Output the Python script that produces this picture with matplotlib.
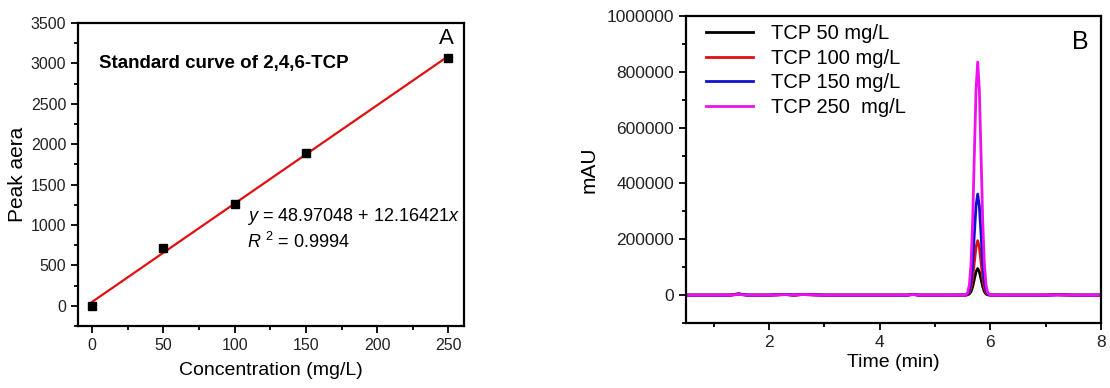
import numpy as np
import matplotlib
matplotlib.use('Agg')
import matplotlib.pyplot as plt
from matplotlib.ticker import MultipleLocator, FuncFormatter

plt.rcParams['font.family'] = ['Liberation Sans', 'DejaVu Sans']
plt.rcParams['mathtext.fontset'] = 'custom'
plt.rcParams['mathtext.rm'] = 'Liberation Sans'
plt.rcParams['mathtext.it'] = 'Liberation Sans:italic'

# Panel A: standard curve data
conc = [0, 50, 100, 150, 250]
peak_area = [0, 710, 1260, 1895, 3065]
intercept = 48.97048
slope = 12.16421

# Panel B: chromatograms (time in min, signal in mAU)
time = [0.5, 1.3, 1.45, 1.6, 2.0, 2.3, 2.45, 2.6, 3.0, 4.0, 4.5, 4.6, 4.7, 5.3,
        5.55, 5.59, 5.62, 5.65, 5.68, 5.71, 5.74, 5.77, 5.80, 5.83, 5.86, 5.89,
        5.92, 5.95, 5.99, 6.2, 7.0, 7.2, 7.5, 8.0]
tcp50 = [0, 0, 5000, 0, 0, 2500, 0, 2500, 0, 0, 0, 3000, 0, 0,
         115, 1050, 4200, 12800, 30900, 57700, 83800, 95000, 83800, 57700, 30900, 12800,
         4200, 1050, 115, 0, 0, 1500, 0, 0]
tcp100 = [0, 0, 3500, 0, 0, 2000, 0, 2000, 0, 0, 0, 2500, 0, 0,
          230, 2150, 8600, 26300, 63400, 118400, 172000, 195000, 172000, 118400, 63400, 26300,
          8600, 2150, 230, 0, 0, 1000, 0, 0]
tcp150 = [0, 0, 3000, 0, 0, 2000, 0, 2000, 0, 0, 0, 2500, 0, 0,
          430, 4000, 15900, 48900, 117600, 219700, 319300, 362000, 319300, 219700, 117600, 48900,
          15900, 4000, 430, 0, 0, 1000, 0, 0]
tcp250 = [0, 0, 2500, 0, 0, 2000, 0, 2000, 0, 0, 0, 2000, 0, 0,
          1000, 9200, 36700, 113000, 271000, 507000, 736000, 835000, 736000, 507000, 271000, 113000,
          36700, 9200, 1000, 0, 0, 1000, 0, 0]
labels = ['TCP 50 mg/L', 'TCP 100 mg/L', 'TCP 150 mg/L', 'TCP 250  mg/L']
colors = ['black', '#e01010', '#1010d0', '#ee10ee']

fig = plt.figure(figsize=(11.1, 3.88), dpi=100)
axA = fig.add_axes([0.0703, 0.160, 0.3477, 0.7807])
axB = fig.add_axes([0.618, 0.1675, 0.374, 0.7913])


def style_axes(ax, size):
    for s in ax.spines.values():
        s.set_linewidth(1.6)
    ax.tick_params(which='both', direction='out', top=False, right=False, labelsize=size,
                   width=1.3, colors='black')
    ax.tick_params(which='major', length=5)
    ax.tick_params(which='minor', length=3)
    for lab in ax.get_xticklabels() + ax.get_yticklabels():
        lab.set_color('#222222')


# Panel A
fit_x = np.array([0, 250])
axA.plot(fit_x, intercept + slope * fit_x, color='#e01010', lw=1.6, zorder=2)
axA.plot(conc, peak_area, 's', color='black', ms=5.5, zorder=3)
axA.set_xlim(-10, 261)
axA.set_ylim(-250, 3500)
axA.xaxis.set_major_locator(MultipleLocator(50))
axA.xaxis.set_minor_locator(MultipleLocator(25))
axA.yaxis.set_major_locator(MultipleLocator(500))
axA.yaxis.set_minor_locator(MultipleLocator(250))
style_axes(axA, 11.5)
axA.set_xlabel('Concentration (mg/L)', fontsize=14, labelpad=7)
axA.set_ylabel('Peak aera', fontsize=15, labelpad=3)
axA.text(0.054, 0.865, 'Standard curve of 2,4,6-TCP', transform=axA.transAxes,
         fontsize=13.5, fontweight='bold', va='center')
axA.text(0.437, 0.36, r'$\it{y}$ = 48.97048 + 12.16421$\it{x}$', transform=axA.transAxes,
         fontsize=13, va='center')
axA.text(0.437, 0.277, r'$\it{R}$ $^{2}$ = 0.9994', transform=axA.transAxes,
         fontsize=13, va='center')
axA.text(0.955, 0.95, 'A', transform=axA.transAxes, fontsize=16, ha='center', va='center')

# Panel B
series = [tcp50, tcp100, tcp150, tcp250]
for vals, lab, c in zip(series, labels, colors):
    axB.plot(time, vals, color=c, lw=2.0, label=lab)
axB.set_xlim(0.5, 8)
axB.set_ylim(-100000, 1000000)
axB.xaxis.set_major_locator(MultipleLocator(2))
axB.xaxis.set_minor_locator(MultipleLocator(1))
axB.yaxis.set_major_locator(MultipleLocator(200000))
axB.yaxis.set_minor_locator(MultipleLocator(100000))
axB.yaxis.set_major_formatter(FuncFormatter(lambda v, p: '%d' % v))
style_axes(axB, 12.5)
axB.set_xlabel('Time (min)', fontsize=14, labelpad=3)
axB.set_ylabel('mAU', fontsize=15)
axB.yaxis.set_label_coords(-0.21, 0.5)
axB.text(0.949, 0.915, 'B', transform=axB.transAxes, fontsize=18, ha='center', va='center')
axB.legend(loc='upper left', frameon=False, fontsize=14.5, handlelength=2.3,
           handletextpad=0.9, labelspacing=0.28, borderaxespad=0.0,
           bbox_to_anchor=(0.03, 1.0))

fig.savefig('out.png', dpi=100)
